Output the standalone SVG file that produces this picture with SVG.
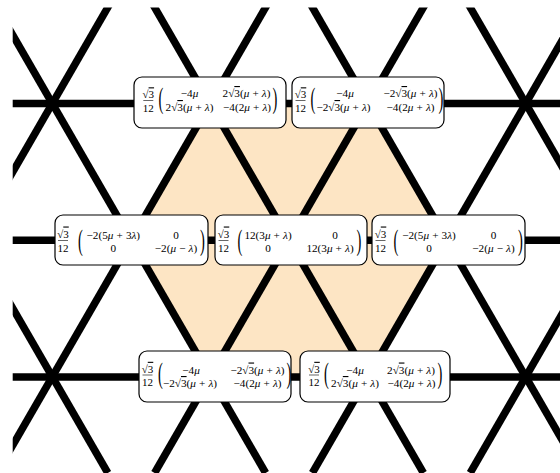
<svg xmlns="http://www.w3.org/2000/svg" width="560" height="473" viewBox="0 0 560 473">
<style>
.ln{stroke:#000;stroke-width:7.5;fill:none}
.box{fill:#fff;stroke:#000;stroke-width:1.2}
.t{font-family:"Liberation Serif","DejaVu Serif",serif;font-size:11.2px;word-spacing:0.3px;text-anchor:middle;fill:#000}
.f{font-size:11px}
.p{font-size:14.5px}
.i{font-style:italic}
.ov{text-decoration:overline}
.bar{stroke:#000;stroke-width:0.6}
</style>
<defs>
<clipPath id="clip"><rect x="12.7" y="7.5" width="560" height="480"/></clipPath>
</defs>
<rect width="560" height="473" fill="#fff"/>
<polygon id="hexagon" points="131.2,240.2 210.1,103.5 367.9,103.5 446.8,240.2 367.9,376.9 210.1,376.9" fill="#fde5c4"/>
<g id="connectors" class="ln" clip-path="url(#clip)">
<line x1="0" y1="103.5" x2="560" y2="103.5"/>
<line x1="0" y1="240.2" x2="560" y2="240.2"/>
<line x1="0" y1="376.9" x2="560" y2="376.9"/>
<line x1="-165.26" y1="0" x2="107.83" y2="473"/>
<line x1="-7.46" y1="0" x2="265.63" y2="473"/>
<line x1="150.34" y1="0" x2="423.43" y2="473"/>
<line x1="308.14" y1="0" x2="581.23" y2="473"/>
<line x1="465.94" y1="0" x2="739.03" y2="473"/>
<line x1="112.06" y1="0" x2="-161.03" y2="473"/>
<line x1="269.86" y1="0" x2="-3.23" y2="473"/>
<line x1="427.66" y1="0" x2="154.57" y2="473"/>
<line x1="585.46" y1="0" x2="312.37" y2="473"/>
<line x1="743.26" y1="0" x2="470.17" y2="473"/>
</g>

<g id="node-top-left">
<rect class="box" x="134" y="77" width="152" height="51" rx="8"/>
<text class="t f" x="148.3" y="98.3">√<tspan class="ov">3</tspan></text>
<line class="bar" x1="143.3" y1="100.5" x2="153.3" y2="100.5"/>
<text class="t f" x="148.3" y="111.5">12</text>
<text class="t p" transform="translate(161,107.5) scale(1,2)">(</text>
<text class="t" x="189.5" y="97">−4<tspan class="i">μ</tspan></text>
<text class="t" x="246.5" y="97">2√<tspan class="ov">3</tspan>(<tspan class="i">μ</tspan> + <tspan class="i">λ</tspan>)</text>
<text class="t" x="189.5" y="111">2√<tspan class="ov">3</tspan>(<tspan class="i">μ</tspan> + <tspan class="i">λ</tspan>)</text>
<text class="t" x="247" y="111">−4(2<tspan class="i">μ</tspan> + <tspan class="i">λ</tspan>)</text>
<text class="t p" transform="translate(275,107.5) scale(1,2)">)</text>
</g>

<g id="node-top-right">
<rect class="box" x="292" y="77" width="152" height="51" rx="8"/>
<text class="t f" x="300.5" y="98.3">√<tspan class="ov">3</tspan></text>
<line class="bar" x1="295.5" y1="100.5" x2="305.5" y2="100.5"/>
<text class="t f" x="300.5" y="111.5">12</text>
<text class="t p" transform="translate(313,107.5) scale(1,2)">(</text>
<text class="t" x="345" y="97">−4<tspan class="i">μ</tspan></text>
<text class="t" x="410.5" y="97">−2√<tspan class="ov">3</tspan>(<tspan class="i">μ</tspan> + <tspan class="i">λ</tspan>)</text>
<text class="t" x="343.5" y="111">−2√<tspan class="ov">3</tspan>(<tspan class="i">μ</tspan> + <tspan class="i">λ</tspan>)</text>
<text class="t" x="410.5" y="111">−4(2<tspan class="i">μ</tspan> + <tspan class="i">λ</tspan>)</text>
<text class="t p" transform="translate(441,107.5) scale(1,2)">)</text>
</g>

<g id="node-mid-left">
<rect class="box" x="55" y="215" width="153" height="50" rx="8"/>
<text class="t f" x="63" y="237.5">√<tspan class="ov">3</tspan></text>
<line class="bar" x1="58" y1="240.5" x2="68" y2="240.5"/>
<text class="t f" x="63" y="251.5">12</text>
<text class="t p" transform="translate(80.5,249.5) scale(1,2)">(</text>
<text class="t" x="113.3" y="238.5">−2(5<tspan class="i">μ</tspan> + 3<tspan class="i">λ</tspan>)</text>
<text class="t" x="176" y="238.5">0</text>
<text class="t" x="113.3" y="251.5">0</text>
<text class="t" x="176" y="251.5">−2(<tspan class="i">μ</tspan> − <tspan class="i">λ</tspan>)</text>
<text class="t p" transform="translate(202.5,249.5) scale(1,2)">)</text>
</g>

<g id="node-center">
<rect class="box" x="215" y="215" width="152" height="50" rx="8"/>
<text class="t f" x="223.5" y="237.5">√<tspan class="ov">3</tspan></text>
<line class="bar" x1="218.5" y1="240.5" x2="228.5" y2="240.5"/>
<text class="t f" x="223.5" y="251.5">12</text>
<text class="t p" transform="translate(240,249.5) scale(1,2)">(</text>
<text class="t" x="268" y="238.5">12(3<tspan class="i">μ</tspan> + <tspan class="i">λ</tspan>)</text>
<text class="t" x="335" y="238.5">0</text>
<text class="t" x="268" y="251.5">0</text>
<text class="t" x="330" y="251.5">12(3<tspan class="i">μ</tspan> + <tspan class="i">λ</tspan>)</text>
<text class="t p" transform="translate(359,249.5) scale(1,2)">)</text>
</g>

<g id="node-mid-right">
<rect class="box" x="372" y="215" width="153" height="50" rx="8"/>
<text class="t f" x="380.5" y="237.5">√<tspan class="ov">3</tspan></text>
<line class="bar" x1="375.5" y1="240.5" x2="385.5" y2="240.5"/>
<text class="t f" x="380.5" y="251.5">12</text>
<text class="t p" transform="translate(396,249.5) scale(1,2)">(</text>
<text class="t" x="429" y="238.5">−2(5<tspan class="i">μ</tspan> + 3<tspan class="i">λ</tspan>)</text>
<text class="t" x="493.5" y="238.5">0</text>
<text class="t" x="429" y="251.5">0</text>
<text class="t" x="493.5" y="251.5">−2(<tspan class="i">μ</tspan> − <tspan class="i">λ</tspan>)</text>
<text class="t p" transform="translate(520.5,249.5) scale(1,2)">)</text>
</g>

<g id="node-bottom-left">
<rect class="box" x="139" y="351" width="152" height="51" rx="8"/>
<text class="t f" x="147.5" y="372.8">√<tspan class="ov">3</tspan></text>
<line class="bar" x1="142.5" y1="375" x2="152.5" y2="375"/>
<text class="t f" x="147.5" y="386.3">12</text>
<text class="t p" transform="translate(160.5,383) scale(1,2)">(</text>
<text class="t" x="191" y="373.5">−4<tspan class="i">μ</tspan></text>
<text class="t" x="257.5" y="373.5">−2√<tspan class="ov">3</tspan>(<tspan class="i">μ</tspan> + <tspan class="i">λ</tspan>)</text>
<text class="t" x="190" y="387">−2√<tspan class="ov">3</tspan>(<tspan class="i">μ</tspan> + <tspan class="i">λ</tspan>)</text>
<text class="t" x="257.5" y="387">−4(2<tspan class="i">μ</tspan> + <tspan class="i">λ</tspan>)</text>
<text class="t p" transform="translate(289,383) scale(1,2)">)</text>
</g>

<g id="node-bottom-right">
<rect class="box" x="300" y="351" width="150" height="51" rx="8"/>
<text class="t f" x="314" y="372.8">√<tspan class="ov">3</tspan></text>
<line class="bar" x1="309" y1="375" x2="319" y2="375"/>
<text class="t f" x="314" y="386.3">12</text>
<text class="t p" transform="translate(326.5,383) scale(1,2)">(</text>
<text class="t" x="355" y="373.5">−4<tspan class="i">μ</tspan></text>
<text class="t" x="411" y="373.5">2√<tspan class="ov">3</tspan>(<tspan class="i">μ</tspan> + <tspan class="i">λ</tspan>)</text>
<text class="t" x="355" y="387">2√<tspan class="ov">3</tspan>(<tspan class="i">μ</tspan> + <tspan class="i">λ</tspan>)</text>
<text class="t" x="411.5" y="387">−4(2<tspan class="i">μ</tspan> + <tspan class="i">λ</tspan>)</text>
<text class="t p" transform="translate(440,383) scale(1,2)">)</text>
</g>
</svg>
